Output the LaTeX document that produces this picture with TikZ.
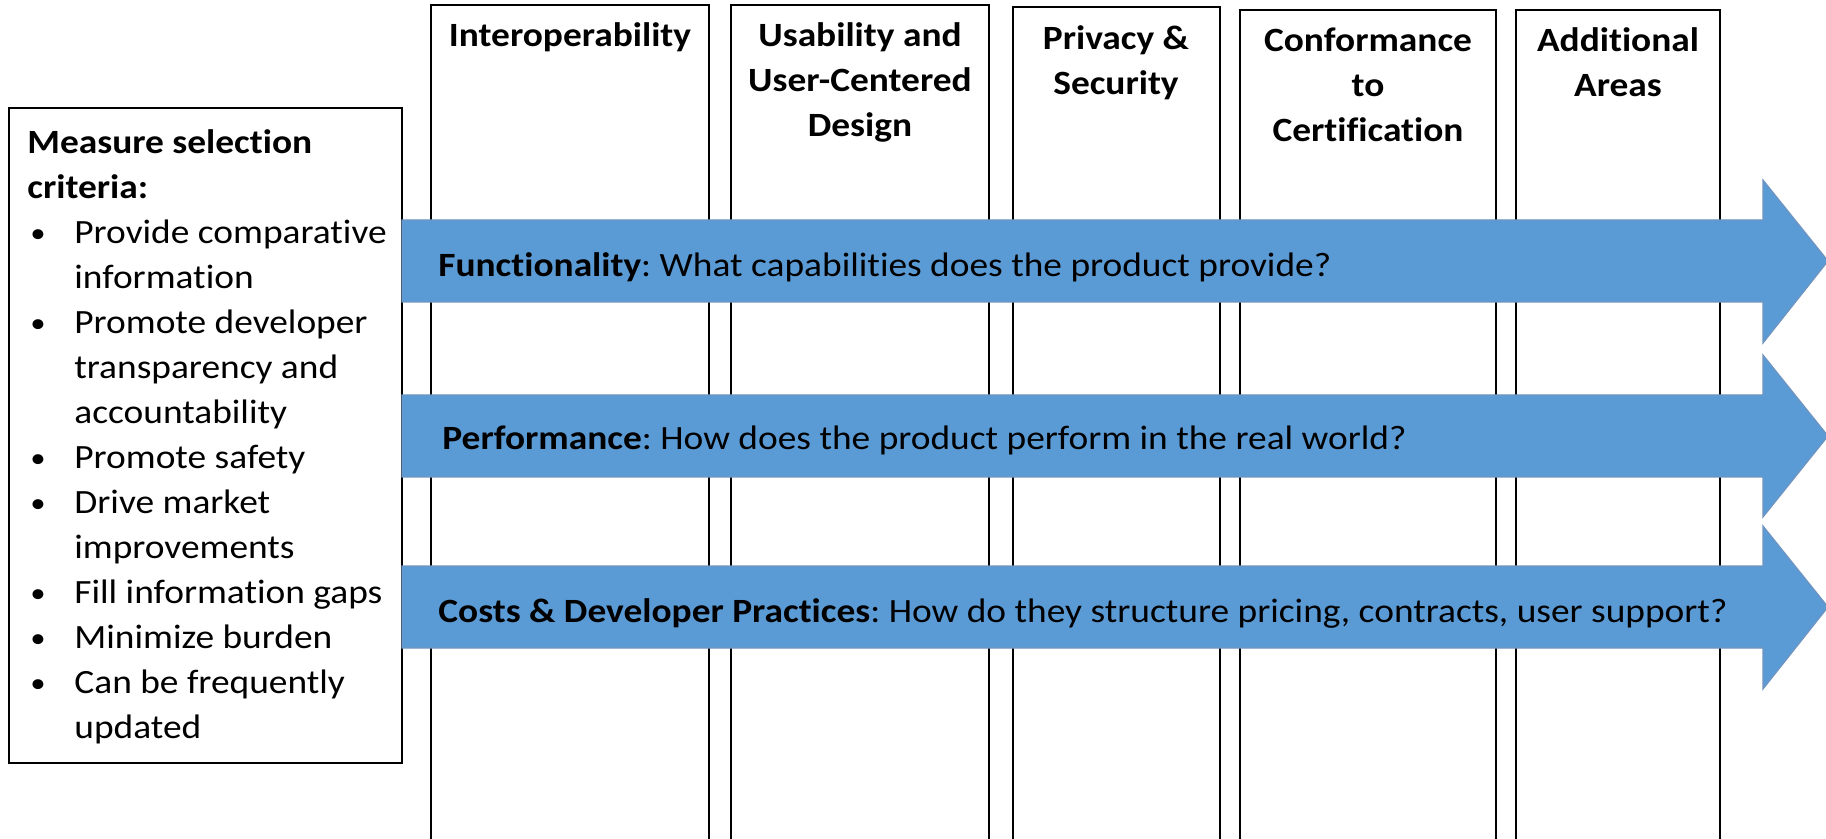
\documentclass[tikz,border=0pt]{standalone}
\usepackage{fontspec}
\setmainfont{Carlito}[FakeStretch=1.1,Ligatures=NoCommon]
\usetikzlibrary{positioning}

\definecolor{barblue}{HTML}{5B9BD5}
\definecolor{baredge}{HTML}{7094C0}

% bullet line and its hanging continuation
\newcommand{\critem}[1]{\makebox[23.5pt][l]{\hspace{1.5pt}\raisebox{0.5pt}{\fontsize{14}{14}\selectfont\textbullet}}#1}
\newcommand{\crcont}[1]{\hspace*{23.5pt}#1}

\begin{document}
\frenchspacing
\begin{tikzpicture}[x=0.5pt,y=-0.5pt,
	column/.style={draw=black,line width=0.8pt},
	heading/.style={anchor=base,align=center,inner sep=0pt,font=\bfseries\fontsize{17}{22.5}\selectfont},
	bar/.style={fill=barblue,draw=baredge,line width=0.6pt,line join=miter},
	bartext/.style={anchor=base west,inner sep=0pt,font=\fontsize{17}{22.5}\selectfont}]

\useasboundingbox (0,0) rectangle (1826,839);

\begin{scope}
	\coordinate (i1) at (431,5);
	\coordinate (i2) at (709,5);
	\coordinate (u1) at (731,5);
	\coordinate (u2) at (989,5);
	\coordinate (p1) at (1013,7);
	\coordinate (p2) at (1220,7);
	\coordinate (k1) at (1240,10);
	\coordinate (k2) at (1496,10);
	\coordinate (a1) at (1516,10);
	\coordinate (a2) at (1720,10);
\end{scope}

% columns, open at the bottom
\draw[column]
	(i1 |- 0,845) -- (i1) -- (i2) -- (i2 |- 0,845)
	(u1 |- 0,845) -- (u1) -- (u2) -- (u2 |- 0,845)
	(p1 |- 0,845) -- (p1) -- (p2) -- (p2 |- 0,845)
	(k1 |- 0,845) -- (k1) -- (k2) -- (k2 |- 0,845)
	(a1 |- 0,845) -- (a1) -- (a2) -- (a2 |- 0,845);

% headings sit on the baseline of their last line
\node[heading] (hint) at (570,47) {Interoperability};
\node[heading] (huse) at (860,137) {Usability and\\User-Centered\\Design};
\node[heading] (hpriv) at (1116,95) {Privacy \&\\Security};
\node[heading] (hconf) at (1368,142) {Conformance\\to\\Certification};
\node[heading] (hadd) at (1618,97) {Additional\\Areas};

% criteria box
\draw[line width=1pt] (9,108) rectangle (402,763);
\node[anchor=base west,align=left,inner sep=0pt,font=\fontsize{17}{22.5}\selectfont] (crit) at (27,738)
	{\textbf{Measure selection}\\
	\textbf{criteria:}\\
	\critem{Provide comparative}\\
	\crcont{information}\\
	\critem{Promote developer}\\
	\crcont{transparency and}\\
	\crcont{accountability}\\
	\critem{Promote safety}\\
	\critem{Drive market}\\
	\crcont{improvements}\\
	\critem{Fill information gaps}\\
	\critem{Minimize burden}\\
	\critem{Can be frequently}\\
	\crcont{updated}};

% the three bars
\draw[bar] (402,220) -- (1763,220) -- (1763,180) -- (1828,261) -- (1763,343) -- (1763,302) -- (402,302) -- cycle;
\draw[bar] (402,395) -- (1763,395) -- (1763,355) -- (1828,436) -- (1763,517) -- (1763,477) -- (402,477) -- cycle;
\draw[bar] (402,566) -- (1763,566) -- (1763,526) -- (1828,607) -- (1763,689) -- (1763,648) -- (402,648) -- cycle;

\node[bartext] (func) at (438,277) {\textbf{Functionality}: What capabilities does the product provide?};
\node[bartext] (perf) at (442,450) {\textbf{Performance}: How does the product perform in the real world?};
\node[bartext] (cost) at (438,622) {\textbf{Costs \& Developer Practices}: How do they structure pricing, contracts, user support?};

\end{tikzpicture}
\end{document}
